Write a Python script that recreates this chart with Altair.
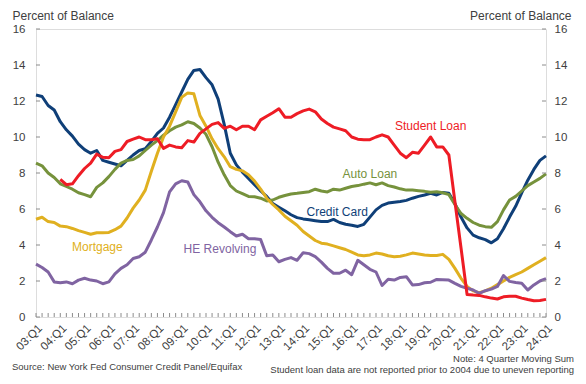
import altair as alt
import pandas as pd

# ---- data ----
quarter_labels = ["03:Q1", "04:Q1", "05:Q1", "06:Q1", "07:Q1", "08:Q1", "09:Q1", "10:Q1",
                  "11:Q1", "12:Q1", "13:Q1", "14:Q1", "15:Q1", "16:Q1", "17:Q1", "18:Q1",
                  "19:Q1", "20:Q1", "21:Q1", "22:Q1", "23:Q1", "24:Q1"]

credit_card = [12.33, 12.25, 11.75, 11.5, 10.85, 10.4, 10.05, 9.6, 9.3, 9.1,
               9.25, 8.7, 8.6, 8.5, 8.4, 8.7, 9.0, 9.25, 9.35, 9.75,
               10.2, 10.5, 11.1, 11.8, 12.5, 13.2, 13.7, 13.75, 13.3, 12.9,
               12.1, 10.7, 9.1, 8.45, 8.05, 7.7, 7.35, 7.0, 6.7, 6.3,
               6.1, 5.9, 5.68, 5.52, 5.45, 5.4, 5.35, 5.3, 5.3, 5.42,
               5.25, 5.15, 5.1, 5.03, 5.15, 5.55, 5.95, 6.2, 6.33, 6.38,
               6.42, 6.48, 6.6, 6.7, 6.78, 6.87, 6.78, 6.92, 6.87, 6.3,
               5.55, 4.95, 4.55, 4.4, 4.3, 4.12, 4.35, 4.9, 5.55, 6.15,
               6.9, 7.6, 8.2, 8.7, 8.95]

auto_loan = [8.55, 8.4, 8.0, 7.75, 7.4, 7.25, 7.1, 6.9, 6.8, 6.68,
             7.2, 7.45, 7.8, 8.2, 8.55, 8.7, 8.75, 8.95, 9.25, 9.55,
             9.8, 10.1, 10.35, 10.55, 10.67, 10.85, 10.75, 10.5, 10.15, 9.46,
             8.6, 7.9, 7.3, 7.0, 6.85, 6.7, 6.68, 6.6, 6.45, 6.5,
             6.65, 6.75, 6.83, 6.87, 6.92, 6.96, 7.1, 7.0, 6.95, 7.1,
             7.05, 7.15, 7.25, 7.3, 7.38, 7.45, 7.35, 7.45, 7.3, 7.22,
             7.12, 7.05, 7.05, 7.02, 6.98, 6.93, 6.96, 6.9, 6.8, 6.25,
             5.75, 5.48, 5.25, 5.1, 5.02, 4.98, 5.3, 5.95, 6.5, 6.7,
             7.0, 7.3, 7.5, 7.7, 7.95]

mortgage = [5.43, 5.54, 5.3, 5.25, 5.05, 5.02, 4.92, 4.8, 4.7, 4.6,
            4.68, 4.68, 4.7, 4.85, 5.05, 5.5, 6.05, 6.5, 7.05, 8.1,
            9.1, 10.0, 10.6, 11.4, 12.2, 12.45, 12.4, 11.2, 10.6, 9.9,
            9.35, 8.9, 8.35, 8.2, 8.12, 7.9, 7.55, 7.1, 6.6, 6.25,
            5.95, 5.6, 5.35, 5.1, 4.75, 4.5, 4.25, 4.1, 4.05, 3.95,
            3.85, 3.75, 3.6, 3.45, 3.4, 3.45, 3.55, 3.5, 3.4, 3.35,
            3.38, 3.45, 3.55, 3.5, 3.45, 3.42, 3.42, 3.48, 3.2, 2.7,
            2.15, 1.7, 1.45, 1.35, 1.45, 1.6, 1.8, 2.0, 2.2, 2.35,
            2.5, 2.7, 2.9, 3.1, 3.3]

he_revolving = [2.94, 2.75, 2.5, 1.95, 1.9, 1.95, 1.85, 2.05, 2.15, 2.05,
                2.0, 1.85, 1.95, 2.4, 2.7, 2.9, 3.25, 3.35, 3.6, 4.28,
                5.0, 5.8, 6.95, 7.4, 7.57, 7.5, 6.8, 6.4, 5.9, 5.54,
                5.24, 5.0, 4.74, 4.5, 4.6, 4.35, 4.35, 4.3, 3.4, 3.45,
                3.07, 3.2, 3.3, 3.15, 3.57, 3.52, 3.35, 3.05, 2.7, 2.43,
                2.43, 2.6, 2.35, 3.15, 2.9, 2.65, 2.5, 1.75, 2.1, 2.05,
                2.2, 2.24, 1.78, 1.8, 1.9, 1.93, 2.09, 2.07, 2.05, 1.87,
                1.7, 1.6, 1.5, 1.31, 1.46, 1.55, 1.7, 2.3, 1.98, 1.92,
                1.88, 1.5, 1.78, 2.0, 2.13]

student_loan = [None, None, None, None, 7.65, 7.35, 7.4, 7.85, 8.25, 8.55,
                9.05, 8.87, 8.85, 9.2, 9.3, 9.75, 9.88, 10.0, 9.85, 9.85,
                9.9, 9.37, 9.55, 9.45, 9.4, 9.8, 9.72, 10.2, 10.45, 10.7,
                10.8, 10.48, 10.6, 10.4, 10.6, 10.6, 10.4, 10.95, 11.15, 11.35,
                11.57, 11.1, 11.1, 11.3, 11.45, 11.55, 11.4, 11.0, 10.75, 10.55,
                10.45, 10.35, 10.0, 9.88, 9.85, 9.85, 10.0, 10.12, 10.0, 9.55,
                9.1, 8.85, 9.15, 9.1, 9.55, 10.0, 9.45, 9.45, 9.0, 6.4,
                3.85, 1.25, 1.22, 1.2, 1.12, 1.05, 1.0, 1.12, 1.15, 1.15,
                1.05, 0.97, 0.9, 0.92, 0.98]

series_names = ["Credit Card", "Auto Loan", "Mortgage", "HE Revolving", "Student Loan"]
series_colors = ["#0f3f78", "#76923c", "#e0b020", "#8064a2", "#ee1c25"]

label_names = ["Student Loan", "Auto Loan", "Credit Card", "Mortgage", "HE Revolving"]
label_q = [65.0, 55.0, 49.6, 10.1, 30.3]
label_v = [10.6, 7.94, 5.85, 3.9, 3.76]

y_ticks = [0, 2, 4, 6, 8, 10, 12, 14, 16]

source_text = "Source: New York Fed Consumer Credit Panel/Equifax"
note_1 = "Note: 4 Quarter Moving Sum"
note_2 = "Student loan data are not reported prior to 2004 due to uneven reporting"

# ---- tables ----
rows = []
for name, vals in zip(series_names, [credit_card, auto_loan, mortgage, he_revolving, student_loan]):
    for i, v in enumerate(vals):
        if v is not None:
            rows.append({"q": i, "series": name, "value": v})
df = pd.DataFrame(rows)

lab_df = pd.DataFrame({"q": label_q, "value": label_v, "series": label_names})
q_df = pd.DataFrame({"q": list(range(len(credit_card)))})
yt_df = pd.DataFrame({"value": y_ticks})

FONT = "Liberation Sans"
TXT = "#404040"
GRAY = "#8c8c8c"
W, H = 510, 288
last_q = len(credit_card) - 1

label_expr = "[" + ",".join("'%s'" % s for s in quarter_labels) + "][round(datum.value/4)]"

x_enc = alt.X("q:Q",
              scale=alt.Scale(domain=[0, last_q], nice=False, zero=False),
              axis=alt.Axis(values=list(range(0, last_q + 1, 4)), labelExpr=label_expr,
                            labelAngle=-45, ticks=False, domain=False, grid=False, title=None,
                            labelFontSize=11.5, labelPadding=5, labelColor=TXT, labelFont=FONT,
                            labelOverlap=False))

y_scale = alt.Scale(domain=[0, 16], nice=False, zero=True)


def y_axis(orient, title_x, title_align, pad):
    return alt.Axis(orient=orient, values=y_ticks, ticks=False, domain=False, grid=False,
                    labelOverlap=False, labelFlush=False,
                    title="Percent of Balance", titleAngle=0, titleX=title_x, titleY=-10,
                    titleAlign=title_align, titleBaseline="alphabetic", titleFontWeight="normal",
                    titleFontSize=12, titleColor=TXT, titleFont=FONT,
                    labelFontSize=11.5, labelPadding=pad, labelColor=TXT, labelFont=FONT)


left_axis = y_axis("left", -24, "left", 11)
y_left = alt.Y("value:Q", scale=y_scale, axis=left_axis)

color_enc = alt.Color("series:N",
                      scale=alt.Scale(domain=series_names, range=series_colors),
                      legend=None)

lines = alt.Chart(df).mark_line(strokeWidth=3, strokeJoin="round").encode(
    x=x_enc, y=y_left, color=color_enc, detail="series:N",
)

labels = alt.Chart(lab_df).mark_text(fontSize=12, font=FONT).encode(
    x=x_enc, y=y_left, text="series:N", color=color_enc,
)

x_minor = alt.Chart(q_df).mark_rule(color=GRAY, strokeWidth=1).encode(
    x=x_enc, y=alt.value(H), y2=alt.value(H - 4))

left_ticks = alt.Chart(yt_df).mark_rule(color=GRAY, strokeWidth=1).encode(
    y=y_left, x=alt.value(0), x2=alt.value(4))

src = alt.Chart(pd.DataFrame({"t": [source_text]})).mark_text(
    align="left", baseline="alphabetic", fontSize=9.5, font=FONT, color=TXT).encode(
    x=alt.value(-24), y=alt.value(341), text="t:N")

n1 = alt.Chart(pd.DataFrame({"t": [note_1]})).mark_text(
    align="right", baseline="alphabetic", fontSize=9.5, font=FONT, color=TXT).encode(
    x=alt.value(538), y=alt.value(333), text="t:N")

n2 = alt.Chart(pd.DataFrame({"t": [note_2]})).mark_text(
    align="right", baseline="alphabetic", fontSize=9.5, font=FONT, color=TXT).encode(
    x=alt.value(538), y=alt.value(344), text="t:N")

main = alt.layer(lines, labels, x_minor, left_ticks, src, n1, n2)

right = alt.Chart(yt_df).mark_rule(color=GRAY, strokeWidth=1).encode(
    y=alt.Y("value:Q", scale=y_scale, axis=y_axis("right", 25, "right", 8)),
    x=alt.value(W - 4), x2=alt.value(W))

chart = alt.layer(main, right).resolve_scale(y="independent").properties(
    width=W, height=H,
    autosize=alt.AutoSizeParams(type="none"),
    padding={"left": 28, "top": 21, "right": 32, "bottom": 58},
).configure_view(stroke=GRAY, strokeWidth=1).configure(background="white")

chart.save("out.html", embed_options={"renderer": "svg", "actions": False})
